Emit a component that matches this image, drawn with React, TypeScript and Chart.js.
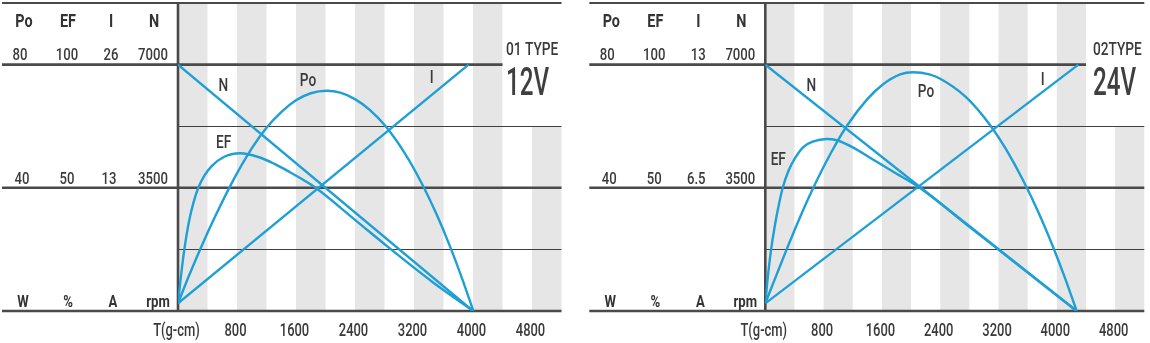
import React, { useEffect, useRef } from 'react';
import { Chart, registerables } from 'chart.js';

Chart.register(...registerables);

// ---------- shared axis data ----------
const X_TICKS = [0, 800, 1600, 2400, 3200, 4000, 4800];
const X_TICK_LABELS = ['T(g-cm)', '800', '1600', '2400', '3200', '4000', '4800'];
const X_MAX = 5200;
const STRIPE_STARTS = [0, 800, 1600, 2400, 3200, 4000, 4800];
const STRIPE_SPAN = 400;
const TYPE_BOX_FROM = 4400;
const N_THICK = [0, 3500, 7000];
const N_THIN = [1750, 5250];

const HEADERS = ['Po', 'EF', 'I', 'N'];
const UNITS = ['W', '%', 'A', 'rpm'];
const FULL_12 = ['80', '100', '26', '7000'];
const HALF_12 = ['40', '50', '13', '3500'];
const FULL_24 = ['80', '100', '13', '7000'];
const HALF_24 = ['40', '50', '6.5', '3500'];

const PO_FULL = 80;
const EF_FULL = 100;
const I_FULL_12 = 26;
const I_FULL_24 = 13;
const N_FULL = 7000;
const HEADROOM = 1.25;

// ---------- 12V series (T in g-cm) ----------
const T_N_12 = [0, 4000];
const N_12 = [7000, 0];
const T_I_12 = [0, 3940];
const I_12 = [0.8, 26];
const T_PO_12 = [0, 150, 300, 500, 750, 1000, 1200, 1400, 1600, 1800, 2016, 2200, 2400, 2600, 2807, 3078, 3304, 3500, 3688, 3850, 4005];
const PO_12 = [2.5, 11.5, 20, 30.5, 42.5, 52.8, 59.5, 64.6, 68.4, 70.7, 71.5, 70.9, 68.8, 65.3, 60.2, 51.1, 41.5, 31.7, 21, 10.7, 0];
const T_EF_12 = [0, 30, 85, 150, 210, 275, 360, 457, 620, 841, 1100, 1315, 1519, 1722, 1871, 2400, 2897, 3450, 4005];
const EF_12 = [3.1, 11.5, 24.8, 36.5, 44, 50, 55, 58.8, 62.5, 64, 62.4, 59.6, 56.3, 52.8, 49.9, 37, 24.8, 11.8, 0];

// ---------- 24V series ----------
const T_N_24 = [0, 4272];
const N_24 = [7000, 0];
const T_I_24 = [0, 4295];
const I_24 = [0.4, 13];
const T_PO_24 = [0, 150, 293, 450, 659, 900, 1125, 1400, 1600, 1850, 2031, 2250, 2400, 2750, 3083, 3300, 3540, 3750, 3943, 4120, 4272];
const PO_24 = [2.5, 11.5, 20, 29, 40, 51.3, 60.3, 68.8, 73.3, 76.8, 77.5, 76.8, 75.4, 69.5, 60.4, 52.6, 42.3, 31.9, 21.1, 10.2, 0];
const T_EF_24 = [0, 35, 80, 133, 185, 239, 320, 408, 521, 650, 842, 980, 1208, 1437, 1750, 2123, 2800, 3500, 4272];
const EF_24 = [3.1, 14, 25, 35, 43, 50, 57, 62, 66.5, 68.7, 69.8, 69.3, 66.3, 62.2, 56.6, 49.9, 34.2, 17.9, 0];

// ---------- styles ----------
const BLUE = '#1e9fd5';
const STRIPE = '#e6e6e6';
const LINE = '#4a4a4a';
const THIN = '#3f3f3f';
const TEXT = '#3a3a3a';
const FONT = "Roboto, 'Open Sans', sans-serif";

type Pt = { x: number; y: number };
const zip = (xs: number[], ys: number[]): Pt[] => xs.map((x, i) => ({ x, y: ys[i] }));

interface Series { t: number[]; v: number[]; axis: string; smooth: boolean }
interface CurveLabel { text: string; t: number; n: number }
interface Panel {
  typeLabel: string;
  voltLabel: string;
  full: string[];
  half: string[];
  iFull: number;
  series: Series[];
  curveLabels: CurveLabel[];
  typeT: number;
  padLeft: number;
  padRight: number;
}

const PANEL_12: Panel = {
  typeLabel: '01 TYPE',
  voltLabel: '12V',
  full: FULL_12,
  half: HALF_12,
  iFull: I_FULL_12,
  series: [
    { t: T_N_12, v: N_12, axis: 'yN', smooth: false },
    { t: T_I_12, v: I_12, axis: 'yI', smooth: false },
    { t: T_PO_12, v: PO_12, axis: 'yPo', smooth: true },
    { t: T_EF_12, v: EF_12, axis: 'yEF', smooth: true },
  ],
  curveLabels: [
    { text: 'N', t: 614, n: 6250 },
    { text: 'Po', t: 1763, n: 6400 },
    { text: 'I', t: 3440, n: 6470 },
    { text: 'EF', t: 620, n: 4622 },
  ],
  typeT: 4447,
  padLeft: 178,
  padRight: 13.5,
};

const PANEL_24: Panel = {
  typeLabel: '02TYPE',
  voltLabel: '24V',
  full: FULL_24,
  half: HALF_24,
  iFull: I_FULL_24,
  series: [
    { t: T_N_24, v: N_24, axis: 'yN', smooth: false },
    { t: T_I_24, v: I_24, axis: 'yI', smooth: false },
    { t: T_PO_24, v: PO_24, axis: 'yPo', smooth: true },
    { t: T_EF_24, v: EF_24, axis: 'yEF', smooth: true },
  ],
  curveLabels: [
    { text: 'N', t: 631, n: 6250 },
    { text: 'Po', t: 2205, n: 6088 },
    { text: 'I', t: 3806, n: 6420 },
    { text: 'EF', t: 178, n: 4148 },
  ],
  typeT: 4496,
  padLeft: 190.3,
  padRight: 5.7,
};

// offsets (px from the vertical axis) of the left-hand columns
const HEAD_DX = [-154, -110, -67, -24];
const FULL_DX = [-158, -111, -67, -25];
const HALF_DX = [-156, -111, -69, -25];
const UNIT_DX = [-155, -110, -65, -20];

function drawText(
  ctx: CanvasRenderingContext2D,
  text: string,
  x: number,
  y: number,
  font: string,
  sx: number,
  align: CanvasTextAlign = 'center',
  color: string = TEXT
) {
  ctx.font = font;
  ctx.fillStyle = color;
  ctx.textAlign = align;
  ctx.textBaseline = 'alphabetic';
  const w = ctx.measureText(text).width;
  ctx.fillText(text, x, y, w * sx);
}

function decorPlugin(p: Panel) {
  const line = (ctx: CanvasRenderingContext2D, x1: number, y1: number, x2: number, y2: number) => {
    ctx.beginPath();
    ctx.moveTo(x1, y1);
    ctx.lineTo(x2, y2);
    ctx.stroke();
  };
  return {
    id: 'decor',
    beforeDatasetsDraw(chart: any) {
      const { ctx, chartArea: a } = chart;
      const xs = chart.scales.x;
      const yN = chart.scales.yN;
      const leftEdge = a.left - 176;
      ctx.save();
      ctx.fillStyle = STRIPE;
      for (const s of STRIPE_STARTS) {
        const x1 = xs.getPixelForValue(s);
        const x2 = xs.getPixelForValue(s + STRIPE_SPAN);
        ctx.fillRect(x1, a.top, x2 - x1, a.bottom - a.top);
      }
      const bx = xs.getPixelForValue(TYPE_BOX_FROM);
      const by = yN.getPixelForValue(5250);
      ctx.fillStyle = '#ffffff';
      ctx.fillRect(bx, a.top, a.right - bx + 2, by - a.top);

      ctx.strokeStyle = THIN;
      ctx.lineWidth = 1;
      for (const v of N_THIN) {
        const yy = Math.round(yN.getPixelForValue(v)) + 0.5;
        line(ctx, a.left, yy, a.right, yy);
      }
      ctx.strokeStyle = LINE;
      ctx.lineWidth = 2.6;
      for (const v of N_THICK) {
        const yy = yN.getPixelForValue(v);
        const xr = v === N_FULL ? bx : a.right;
        line(ctx, leftEdge, yy, xr, yy);
      }
      ctx.lineWidth = 2;
      line(ctx, leftEdge, a.top, a.right, a.top);
      ctx.lineWidth = 2.6;
      line(ctx, a.left, a.top - 1, a.left, a.bottom + 1);
      ctx.restore();
    },
    afterDatasetsDraw(chart: any) {
      const { ctx, chartArea: a } = chart;
      const xs = chart.scales.x;
      const yN = chart.scales.yN;
      ctx.save();
      HEADERS.forEach((h, i) =>
        drawText(ctx, h, a.left + HEAD_DX[i], a.top + 24, `700 18px ${FONT}`, 0.8, 'center', '#333')
      );
      const yFull = yN.getPixelForValue(N_FULL) - 4.3;
      const yHalf = yN.getPixelForValue(N_FULL / 2) - 4.3;
      const yZero = yN.getPixelForValue(0) - 4;
      p.full.forEach((t, i) => drawText(ctx, t, a.left + FULL_DX[i], yFull, `500 16px ${FONT}`, 0.82));
      p.half.forEach((t, i) => drawText(ctx, t, a.left + HALF_DX[i], yHalf, `500 16px ${FONT}`, 0.82));
      UNITS.forEach((t, i) =>
        drawText(ctx, t, a.left + UNIT_DX[i], yZero, `700 16px ${FONT}`, 0.82, 'center', '#333')
      );
      X_TICKS.forEach((t, i) =>
        drawText(ctx, X_TICK_LABELS[i], xs.getPixelForValue(t) - 1.5, a.bottom + 25, `500 17.5px ${FONT}`, 0.74)
      );
      p.curveLabels.forEach((l) =>
        drawText(ctx, l.text, xs.getPixelForValue(l.t), yN.getPixelForValue(l.n), `500 17.5px ${FONT}`, 0.78)
      );
      const tx = xs.getPixelForValue(p.typeT);
      drawText(ctx, p.typeLabel, tx, yN.getPixelForValue(N_FULL) - 10, `500 18.5px ${FONT}`, 0.74, 'left');
      drawText(ctx, p.voltLabel, tx, yN.getPixelForValue(N_FULL) + 30.5, `500 39px ${FONT}`, 0.62, 'left', '#3f3f3f');
      ctx.restore();
    },
  };
}

function buildConfig(p: Panel): any {
  return {
    type: 'line',
    data: {
      datasets: p.series.map((s) => ({
        data: zip(s.t, s.v),
        yAxisID: s.axis,
        borderColor: BLUE,
        borderWidth: 2.4,
        pointRadius: 0,
        fill: false,
        tension: 0,
        cubicInterpolationMode: s.smooth ? 'monotone' : 'default',
      })),
    },
    options: {
      animation: false,
      responsive: false,
      devicePixelRatio: 1,
      events: [],
      layout: { padding: { left: p.padLeft, right: p.padRight, top: 3, bottom: 32 } },
      plugins: { legend: { display: false }, tooltip: { enabled: false }, title: { display: false } },
      scales: {
        x: { type: 'linear', min: 0, max: X_MAX, display: false },
        yN: { type: 'linear', min: 0, max: N_FULL * HEADROOM, display: false },
        yI: { type: 'linear', min: 0, max: p.iFull * HEADROOM, display: false },
        yPo: { type: 'linear', min: 0, max: PO_FULL * HEADROOM, display: false },
        yEF: { type: 'linear', min: 0, max: EF_FULL * HEADROOM, display: false },
      },
    },
    plugins: [decorPlugin(p)],
  };
}

function PanelChart({ panel, left }: { panel: Panel; left: number }) {
  const ref = useRef<HTMLCanvasElement>(null);
  useEffect(() => {
    if (!ref.current) return;
    const chart = new Chart(ref.current, buildConfig(panel));
    return () => chart.destroy();
  }, [panel]);
  return (
    <canvas
      ref={ref}
      width={575}
      height={343}
      style={{ position: 'absolute', left, top: 0, width: 575, height: 343 }}
    />
  );
}

export default function App() {
  return (
    <div
      style={{
        position: 'absolute',
        left: 0,
        top: 0,
        width: 1150,
        height: 343,
        background: '#ffffff',
        overflow: 'hidden',
      }}
    >
      <PanelChart panel={PANEL_12} left={0} />
      <PanelChart panel={PANEL_24} left={575} />
    </div>
  );
}
